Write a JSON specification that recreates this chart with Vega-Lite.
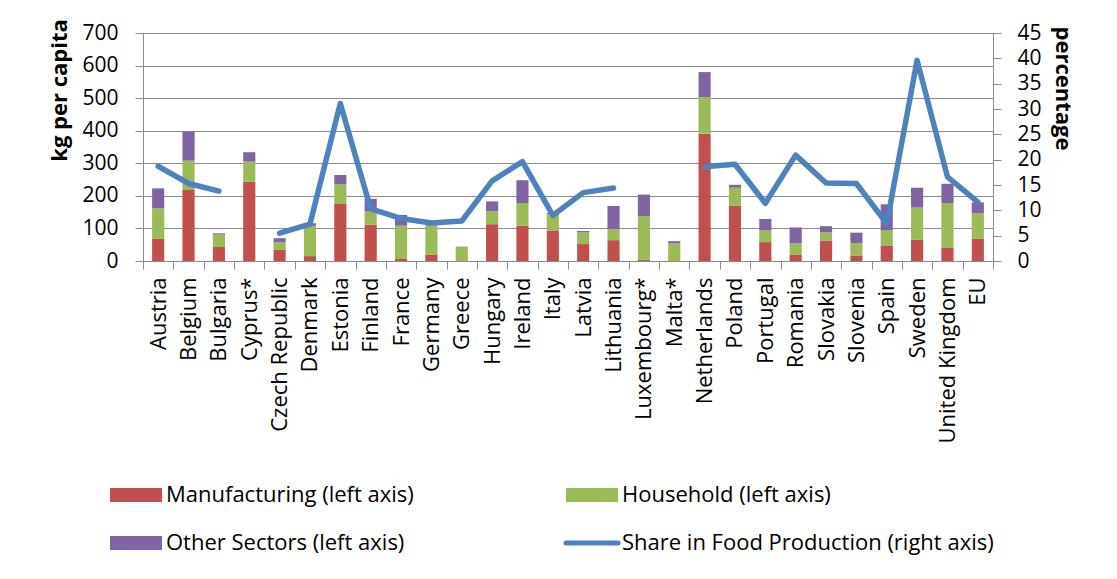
{
  "$schema": "https://vega.github.io/schema/vega-lite/v6.json",
  "width": 850,
  "height": 228,
  "autosize": {"type": "none"},
  "padding": {"left": 143, "top": 33, "right": 124, "bottom": 318},
  "background": "white",
  "config": {
    "view": {"stroke": null},
    "font": "Open Sans",
    "axis": {"labelFont": "Open Sans", "titleFont": "Open Sans", "labelColor": "#000000", "titleColor": "#000000"},
    "legend": {"labelFont": "Open Sans"}
  },
  "data": {
    "values": [
      {"country": "Austria", "Manufacturing": 68, "Household": 94, "Other Sectors": 61, "share": 18.7},
      {"country": "Belgium", "Manufacturing": 218, "Household": 90, "Other Sectors": 89, "share": 15.3},
      {"country": "Bulgaria", "Manufacturing": 43, "Household": 38, "Other Sectors": 4, "share": 13.8},
      {"country": "Cyprus*", "Manufacturing": 243, "Household": 62, "Other Sectors": 29, "share": null},
      {"country": "Czech Republic", "Manufacturing": 34, "Household": 24, "Other Sectors": 12, "share": 5.5},
      {"country": "Denmark", "Manufacturing": 15, "Household": 93, "Other Sectors": 8, "share": 7.3},
      {"country": "Estonia", "Manufacturing": 175, "Household": 61, "Other Sectors": 28, "share": 31.1},
      {"country": "Finland", "Manufacturing": 111, "Household": 41, "Other Sectors": 39, "share": 10.3},
      {"country": "France", "Manufacturing": 6, "Household": 102, "Other Sectors": 33, "share": 8.4},
      {"country": "Germany", "Manufacturing": 20, "Household": 88, "Other Sectors": 2, "share": 7.5},
      {"country": "Greece", "Manufacturing": 2, "Household": 41, "Other Sectors": 1, "share": 7.9},
      {"country": "Hungary", "Manufacturing": 113, "Household": 40, "Other Sectors": 30, "share": 15.8},
      {"country": "Ireland", "Manufacturing": 108, "Household": 70, "Other Sectors": 70, "share": 19.6},
      {"country": "Italy", "Manufacturing": 94, "Household": 50, "Other Sectors": 4, "share": 9.0},
      {"country": "Latvia", "Manufacturing": 52, "Household": 36, "Other Sectors": 4, "share": 13.5},
      {"country": "Lithuania", "Manufacturing": 64, "Household": 33, "Other Sectors": 72, "share": 14.4},
      {"country": "Luxembourg*", "Manufacturing": 4, "Household": 134, "Other Sectors": 66, "share": null},
      {"country": "Malta*", "Manufacturing": 0, "Household": 54, "Other Sectors": 7, "share": null},
      {"country": "Netherlands", "Manufacturing": 391, "Household": 112, "Other Sectors": 77, "share": 18.6},
      {"country": "Poland", "Manufacturing": 169, "Household": 56, "Other Sectors": 9, "share": 19.1},
      {"country": "Portugal", "Manufacturing": 58, "Household": 36, "Other Sectors": 35, "share": 11.4},
      {"country": "Romania", "Manufacturing": 20, "Household": 34, "Other Sectors": 49, "share": 20.9},
      {"country": "Slovakia", "Manufacturing": 63, "Household": 25, "Other Sectors": 19, "share": 15.4},
      {"country": "Slovenia", "Manufacturing": 17, "Household": 37, "Other Sectors": 33, "share": 15.3},
      {"country": "Spain", "Manufacturing": 46, "Household": 49, "Other Sectors": 79, "share": 7.4},
      {"country": "Sweden", "Manufacturing": 65, "Household": 99, "Other Sectors": 61, "share": 39.6},
      {"country": "United Kingdom", "Manufacturing": 40, "Household": 138, "Other Sectors": 59, "share": 16.6},
      {"country": "EU", "Manufacturing": 68, "Household": 78, "Other Sectors": 34, "share": 11.6}
    ]
  },
  "layer": [
    {
      "transform": [
        {"fold": ["Manufacturing", "Household", "Other Sectors"], "as": ["sector", "value"]},
        {"window": [{"op": "row_number", "as": "stackOrder"}], "groupby": ["country"]}
      ],
      "mark": {"type": "bar", "width": {"band": 0.4}},
      "encoding": {
        "x": {
          "field": "country",
          "type": "nominal",
          "scale": {
            "domain": ["Austria", "Belgium", "Bulgaria", "Cyprus*", "Czech Republic", "Denmark", "Estonia", "Finland", "France", "Germany", "Greece", "Hungary", "Ireland", "Italy", "Latvia", "Lithuania", "Luxembourg*", "Malta*", "Netherlands", "Poland", "Portugal", "Romania", "Slovakia", "Slovenia", "Spain", "Sweden", "United Kingdom", "EU"],
            "paddingInner": 0,
            "paddingOuter": 0
          },
          "axis": {
            "title": null,
            "labelAngle": -90,
            "labelFontSize": 22,
            "labelPadding": 8,
            "tickBand": "extent",
            "tickSize": 8,
            "tickColor": "#8c8c8c",
            "domainColor": "#8c8c8c",
            "labelOverlap": false
          }
        },
        "y": {
          "field": "value",
          "type": "quantitative",
          "stack": "zero",
          "scale": {"domain": [0, 700]},
          "axis": {
            "orient": "left",
            "values": [0, 100, 200, 300, 400, 500, 600, 700],
            "grid": true,
            "gridColor": "#8c8c8c",
            "gridWidth": 1.2,
            "domainColor": "#8c8c8c",
            "tickColor": "#8c8c8c",
            "tickSize": 8,
            "labelPadding": 17,
            "labelFontSize": 21,
            "title": "kg per capita",
            "titleFontSize": 22,
            "titleFontWeight": "bold",
            "titleAngle": -90,
            "titleAlign": "center",
            "titleBaseline": "middle",
            "titleX": -84,
            "titleY": 57
          }
        },
        "order": {"field": "stackOrder", "type": "quantitative", "sort": "ascending"},
        "color": {
          "field": "sector",
          "type": "nominal",
          "scale": {
            "domain": ["Manufacturing", "Household", "Other Sectors", "Share in Food Production"],
            "range": ["#C0504D", "#9BBB59", "#8064A2", "#4F81BD"]
          },
          "legend": {
            "title": null,
            "orient": "none",
            "direction": "horizontal",
            "legendX": -18,
            "legendY": 451,
            "columns": 2,
            "columnPadding": 142,
            "rowPadding": 26,
            "gridAlign": "each",
            "symbolType": "M-1,-0.27H1V0.27H-1Z",
            "symbolSize": 2704,
            "labelFontSize": 22,
            "labelColor": "#000000",
            "labelOffset": 19,
            "labelLimit": 0,
            "labelExpr": "datum.label === 'Share in Food Production' ? datum.label + ' (right axis)' : datum.label + ' (left axis)'",
            "encode": {
              "symbols": {
                "update": {
                  "shape": {"signal": "datum.value === 'Share in Food Production' ? 'stroke' : 'M-1,-0.27H1V0.27H-1Z'"},
                  "fill": {"signal": "datum.value === 'Share in Food Production' ? 'transparent' : scale('color', datum.value)"},
                  "stroke": {"signal": "scale('color', datum.value)"},
                  "strokeWidth": {"signal": "datum.value === 'Share in Food Production' ? 5 : 0"},
                  "strokeCap": {"value": "round"},
                  "opacity": {"value": 1},
                  "fillOpacity": {"value": 1},
                  "strokeOpacity": {"value": 1}
                }
              }
            }
          }
        }
      }
    },
    {
      "mark": {"type": "line", "strokeWidth": 5.5, "strokeCap": "round", "strokeJoin": "round", "invalid": "break-paths-filter-domains"},
      "encoding": {
        "x": {"field": "country", "type": "nominal"},
        "y": {
          "field": "share",
          "type": "quantitative",
          "scale": {"domain": [0, 45]},
          "axis": {
            "orient": "right",
            "values": [0, 5, 10, 15, 20, 25, 30, 35, 40, 45],
            "grid": false,
            "domainColor": "#8c8c8c",
            "tickColor": "#8c8c8c",
            "tickSize": 8,
            "labelPadding": 16,
            "labelFontSize": 21,
            "title": "percentage",
            "titleFontSize": 22,
            "titleFontWeight": "bold",
            "titleAngle": 90,
            "titleAlign": "center",
            "titleBaseline": "middle",
            "titleX": 69,
            "titleY": 55
          }
        },
        "color": {"datum": "Share in Food Production"}
      }
    }
  ],
  "resolve": {"scale": {"y": "independent"}}
}
